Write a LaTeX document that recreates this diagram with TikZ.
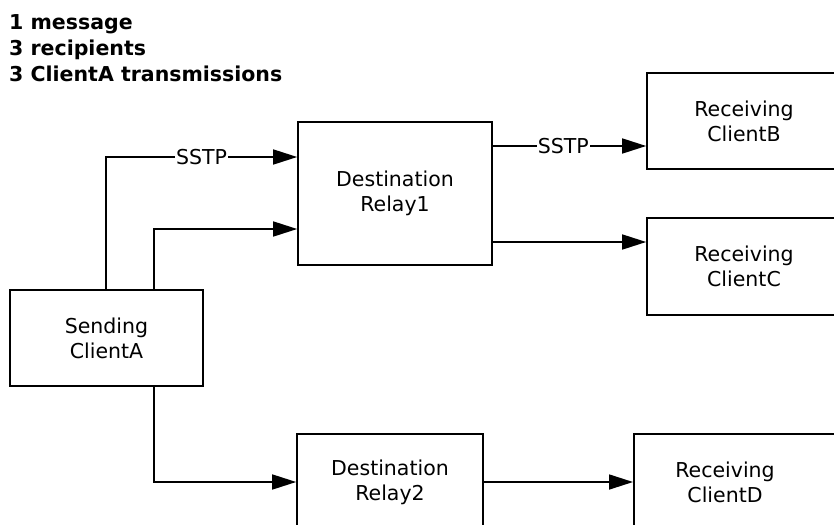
\documentclass[tikz,border=0pt]{standalone}
\usepackage{fontspec}
\setmainfont{DejaVu Sans}
\usetikzlibrary{arrows.meta}
\begin{document}
\begin{tikzpicture}[x=1pt,y=-1pt,
  txt/.style={font=\fontsize{20.5}{25}\selectfont, align=center, inner sep=0pt},
  box/.style={txt, draw, line width=1.7pt, minimum height=96pt},
  conn/.style={line width=1.7pt, -{Triangle[length=24pt,width=15pt]}},
  lbl/.style={txt, fill=white, inner xsep=1pt, inner ysep=2pt}]
\path[use as bounding box, clip] (0,0) rectangle (834,524);
\node[anchor=north west, align=left, inner sep=0pt, font=\bfseries\fontsize{20.5}{26}\selectfont] (title) at (9,14) {1 message\\3 recipients\\3 ClientA transmissions};
\node[box, minimum width=193pt] (ca) at (106.5,338) {Sending\\ClientA};
\node[box, minimum width=194pt, minimum height=143pt] (r1) at (395,193.5) {Destination\\Relay1};
\node[box, minimum width=186pt] (r2) at (390,482) {Destination\\Relay2};
\node[box, minimum width=194pt] (cb) at (744,121) {Receiving\\ClientB};
\node[box, minimum width=194pt, minimum height=97pt] (cc) at (744,266.5) {Receiving\\ClientC};
\node[box, minimum width=220pt, anchor=west] (cd) at (633,482) {};
\node[txt] (cdt) at (725,482) {Receiving\\ClientD};
\draw[conn] (ca.north -| 106,0) |- node[lbl, pos=0.75] (l1) {SSTP} (r1.west |- 0,157);
\draw[conn] (ca.north -| 154,0) |- (r1.west |- 0,229);
\draw[conn] (ca.south -| 154,0) |- (r2.west);
\draw[conn] (r1.east |- 0,146) -- node[lbl, pos=0.46] (l2) {SSTP} (cb.west |- 0,146);
\draw[conn] (r1.east |- 0,242) -- (cc.west |- 0,242);
\draw[conn] (r2.east) -- (cd.west);
\end{tikzpicture}
\end{document}
